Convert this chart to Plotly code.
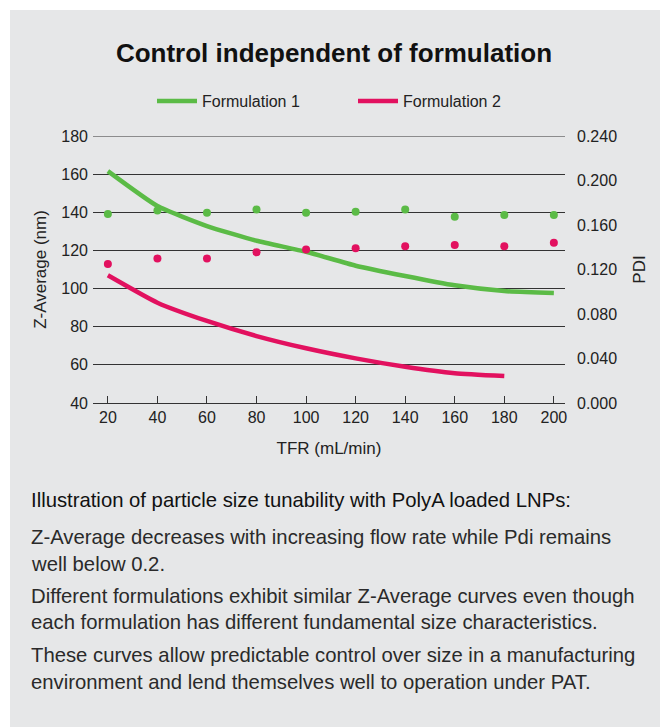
import plotly.graph_objects as go

tfr = [20, 40, 60, 80, 100, 120, 140, 160, 180, 200]
tfr_f2 = [20, 40, 60, 80, 100, 120, 140, 160, 180]
z_f1 = [161.6, 143.3, 132.8, 125.1, 119.3, 112.0, 106.6, 101.7, 98.7, 97.7]
z_f2 = [107.0, 92.6, 83.0, 75.1, 68.7, 63.4, 59.0, 55.6, 54.1]
pdi_f1 = [0.170, 0.173, 0.171, 0.174, 0.171, 0.172, 0.174, 0.1675, 0.169, 0.169]
pdi_f2 = [0.125, 0.130, 0.130, 0.1355, 0.138, 0.139, 0.141, 0.142, 0.141, 0.144]
series_names = ["Formulation 1", "Formulation 2"]
z_ticks = [40, 60, 80, 100, 120, 140, 160, 180]
pdi_ticks = [0.0, 0.04, 0.08, 0.12, 0.16, 0.20, 0.24]

GREEN = "#5bbb46"
PINK = "#e2115f"
GRID = "#333333"
FONT = "Liberation Sans, Arial, sans-serif"

W, H = 668, 727
OFF = 8  # page body margin
L, R, T, B = 93 - OFF, 565 - OFF, 136 - OFF, 403 - OFF


def px_x(x):
    return (x - OFF - L) / (R - L)


def px_y(y):
    return (B - (y - OFF)) / (B - T)


fig = go.Figure()
fig.add_trace(go.Scatter(x=tfr, y=z_f1, mode="lines", name=series_names[0],
                         line=dict(color=GREEN, width=4.5, shape="spline", smoothing=0.5)))
fig.add_trace(go.Scatter(x=tfr_f2, y=z_f2, mode="lines", name=series_names[1],
                         line=dict(color=PINK, width=4.5, shape="spline", smoothing=0.5)))
fig.add_trace(go.Scatter(x=tfr, y=pdi_f1, mode="markers", yaxis="y2", showlegend=False,
                         marker=dict(color=GREEN, size=8)))
fig.add_trace(go.Scatter(x=tfr, y=pdi_f2, mode="markers", yaxis="y2", showlegend=False,
                         marker=dict(color=PINK, size=8)))

shapes = [
    dict(type="rect", xref="paper", yref="paper", layer="below",
         x0=px_x(10), x1=px_x(W + 20), y0=px_y(10), y1=px_y(H + 20),
         fillcolor="#e6e7e8", line=dict(width=0)),
    # top gridline (plotly clips grid lines lying on the plot edge)
    dict(type="line", xref="paper", yref="y", layer="below",
         x0=0, x1=1, y0=z_ticks[-1], y1=z_ticks[-1], line=dict(color=GRID, width=1)),
]

annotations = []
body = [
    ("Illustration of particle size tunability with PolyA loaded LNPs:", 500, "#111111"),
    ("Z-Average decreases with increasing flow rate while Pdi remains", 537, "#2a2a2a"),
    ("well below 0.2.", 564, "#2a2a2a"),
    ("Different formulations exhibit similar Z-Average curves even though", 596, "#2a2a2a"),
    ("each formulation has different fundamental size characteristics.", 622, "#2a2a2a"),
    ("These curves allow predictable control over size in a manufacturing", 655, "#2a2a2a"),
    ("environment and lend themselves well to operation under PAT.", 682, "#2a2a2a"),
]
for txt, yy, col in body:
    annotations.append(dict(text=txt, xref="paper", yref="paper", x=px_x(29), y=px_y(yy),
                            xanchor="left", yanchor="middle", showarrow=False,
                            font=dict(family=FONT, size=20.3, color=col)))

fig.update_layout(
    width=W, height=H,
    margin=dict(l=L, r=W - R, t=T, b=H - B),
    paper_bgcolor="white",
    plot_bgcolor="rgba(0,0,0,0)",
    font=dict(family=FONT, color="#222222", size=16),
    title=dict(text="<b>Control independent of formulation</b>", xref="paper", yref="container",
               x=px_x(334), y=1 - (53 - OFF) / H, xanchor="center", yanchor="middle",
               font=dict(family=FONT, size=26, color="#111111")),
    showlegend=True,
    legend=dict(orientation="h", xref="paper", yref="paper", x=px_x(152), y=px_y(101),
                xanchor="left", yanchor="middle", bgcolor="rgba(0,0,0,0)",
                font=dict(family=FONT, size=16, color="#222222"),
                entrywidth=146, itemwidth=40),
    xaxis=dict(range=[14, 204.5], tickmode="array", tickvals=tfr,
               ticks="inside", ticklen=7, tickcolor=GRID, showline=True, linecolor=GRID,
               linewidth=1, showgrid=False, zeroline=False,
               title=dict(text="TFR (mL/min)", standoff=16, font=dict(size=17)),
               tickfont=dict(size=16)),
    yaxis=dict(range=[40, 180], tickmode="array", tickvals=z_ticks, showgrid=True,
               gridcolor=GRID, gridwidth=1, zeroline=False, ticks="", showline=False,
               ticklabelstandoff=4,
               title=dict(text="Z-Average (nm)", standoff=10, font=dict(size=17)),
               tickfont=dict(size=16)),
    yaxis2=dict(range=[0, 0.24], overlaying="y", side="right", tickmode="array",
                tickvals=pdi_ticks, tickformat=".3f", showgrid=False, zeroline=False,
                ticks="", showline=False, ticklabelstandoff=11,
                title=dict(text="PDI", standoff=16, font=dict(size=17)),
                tickfont=dict(size=16)),
    shapes=shapes,
    annotations=annotations,
)

fig.write_html("out.html")
